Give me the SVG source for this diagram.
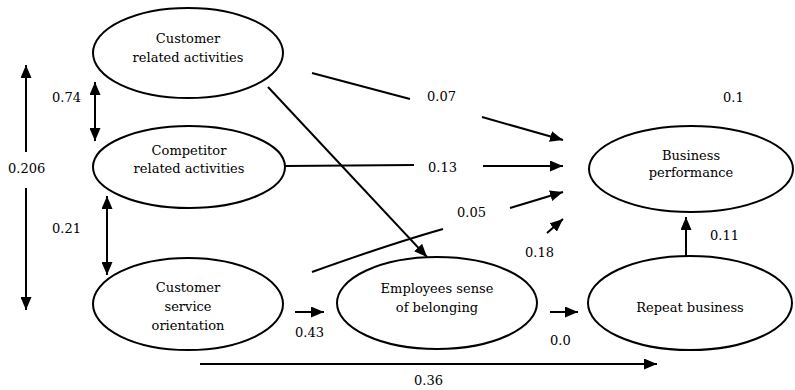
<svg xmlns="http://www.w3.org/2000/svg" width="795" height="390" viewBox="0 0 795 390">
<defs>
<marker id="ah" markerUnits="userSpaceOnUse" markerWidth="13" markerHeight="11" refX="13" refY="5.5" orient="auto-start-reverse" viewBox="0 0 13 11">
<path d="M0,0 L13,5.5 L0,11 z" fill="#000"/>
</marker>
<style>
.n{fill:#fff;stroke:#000;stroke-width:2}
.t{font-family:"DejaVu Serif","Liberation Serif",serif;font-size:13px;fill:#000;text-anchor:middle}
.l{font-family:"DejaVu Serif","Liberation Serif",serif;font-size:13px;fill:#000}
.c{fill:none;stroke:#000;stroke-width:2}
.a{marker-end:url(#ah)}
.s{marker-start:url(#ah)}
.d{marker-start:url(#ah);marker-end:url(#ah)}
</style>
</defs>
<rect width="795" height="390" fill="#fff"/>
<g id="connectors">
<line class="c s" x1="26" y1="65" x2="26" y2="152"/>
<line class="c a" x1="26" y1="188" x2="26" y2="310"/>
<line class="c d" x1="95" y1="82" x2="95" y2="141"/>
<line class="c d" x1="107" y1="196" x2="107" y2="275"/>
<line class="c" x1="312" y1="73" x2="410" y2="99"/>
<line class="c a" x1="482" y1="117" x2="563" y2="140"/>
<line class="c" x1="285" y1="166" x2="414" y2="165"/>
<line class="c a" x1="483" y1="166" x2="563" y2="166"/>
<path class="c" d="M312,272 Q390,244 443,229"/>
<line class="c a" x1="510" y1="208" x2="563" y2="192"/>
<line class="c a" x1="547" y1="233" x2="563" y2="219"/>
<line class="c a" x1="268" y1="87" x2="427" y2="257"/>
<line class="c a" x1="295" y1="312" x2="324" y2="312"/>
<line class="c a" x1="550" y1="312" x2="578" y2="312"/>
<line class="c a" x1="200" y1="364" x2="657" y2="364"/>
<line class="c a" x1="686" y1="257" x2="686" y2="217"/>
</g>
<g id="customer-related">
<ellipse class="n" cx="188" cy="53" rx="95" ry="45"/>
<text class="t" x="188" y="43">Customer</text>
<text class="t" x="188" y="62">related activities</text>
</g>
<g id="competitor-related">
<ellipse class="n" cx="189" cy="167" rx="96" ry="41"/>
<text class="t" x="189" y="155">Competitor</text>
<text class="t" x="189" y="173">related activities</text>
</g>
<g id="customer-service">
<ellipse class="n" cx="188" cy="304" rx="95" ry="46"/>
<text class="t" x="188" y="292">Customer</text>
<text class="t" x="188" y="311">service</text>
<text class="t" x="188" y="330">orientation</text>
</g>
<g id="employees">
<ellipse class="n" cx="437" cy="303" rx="100" ry="46"/>
<text class="t" x="437" y="293">Employees sense</text>
<text class="t" x="437" y="312">of belonging</text>
</g>
<g id="business-performance">
<ellipse class="n" cx="691" cy="169" rx="102" ry="43"/>
<text class="t" x="691" y="160">Business</text>
<text class="t" x="691" y="177">performance</text>
</g>
<g id="repeat-business">
<ellipse class="n" cx="690" cy="303" rx="102" ry="47"/>
<text class="t" x="690" y="312">Repeat business</text>
</g>
<g id="labels">
<text class="l" x="52" y="102">0.74</text>
<text class="l" x="8" y="173">0.206</text>
<text class="l" x="52" y="233">0.21</text>
<text class="l" x="427" y="101">0.07</text>
<text class="l" x="428" y="172">0.13</text>
<text class="l" x="457" y="217">0.05</text>
<text class="l" x="525" y="257">0.18</text>
<text class="l" x="295" y="337">0.43</text>
<text class="l" x="550" y="345">0.0</text>
<text class="l" x="414" y="385">0.36</text>
<text class="l" x="710" y="240">0.11</text>
<text class="l" x="723" y="102">0.1</text>
</g>
</svg>
